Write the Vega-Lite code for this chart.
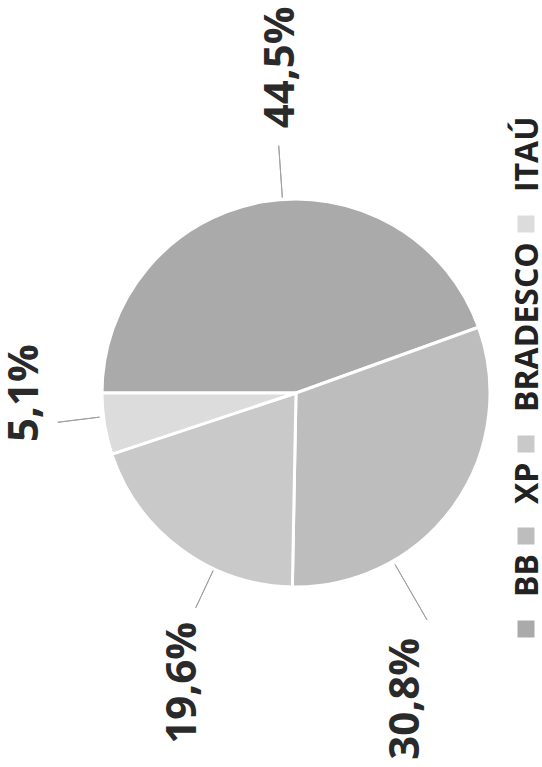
{
  "$schema": "https://vega.github.io/schema/vega-lite/v6.json",
  "autosize": {"type": "none"},
  "padding": {"left": 50, "top": 20, "right": 0, "bottom": 0},
  "width": 492,
  "height": 746,
  "background": "white",
  "config": {
    "view": {"stroke": null},
    "font": "Open Sans",
    "style": {"guide-label": {"angle": 270, "dx": 32, "dy": -14.5}}
  },
  "data": {
    "values": [
      {"banco": "BB", "valor": 44.5, "rotulo": "44,5%", "ordem": 1},
      {"banco": "XP", "valor": 30.8, "rotulo": "30,8%", "ordem": 2},
      {"banco": "BRADESCO", "valor": 19.6, "rotulo": "19,6%", "ordem": 3},
      {"banco": "ITAÚ", "valor": 5.1, "rotulo": "5,1%", "ordem": 4}
    ]
  },
  "encoding": {
    "theta": {"field": "valor", "type": "quantitative", "stack": true, "scale": {"range": [-1.5708, 4.7124]}},
    "order": {"field": "ordem", "type": "quantitative"}
  },
  "layer": [
    {
      "mark": {"type": "arc", "outerRadius": 194, "stroke": "white", "strokeWidth": 3},
      "encoding": {
        "color": {
          "field": "banco",
          "type": "nominal",
          "scale": {"domain": ["ITAÚ", "BRADESCO", "XP", "BB"], "range": ["#dcdcdc", "#c9c9c9", "#bdbdbd", "#aaaaaa"]},
          "legend": {
            "orient": "none",
            "legendX": 460,
            "legendY": 188,
            "direction": "vertical",
            "title": null,
            "padding": 0,
            "symbolType": "square",
            "symbolSize": 289,
            "symbolStrokeWidth": 0,
            "labelFont": "Open Sans",
            "labelFontSize": 32,
            "labelFontWeight": "bold",
            "labelColor": "#222222",
            "labelOffset": 0,
            "labelLimit": 400,
            "labelAlign": "left",
            "labelBaseline": "middle",
            "rowPadding": 9
          }
        }
      }
    },
    {
      "mark": {"type": "arc", "filled": false, "innerRadius": 196, "outerRadius": 248, "padAngle": 3.14, "thetaOffset": 0.103, "stroke": "#a0a0a0", "strokeWidth": 1},
      "encoding": {"strokeOpacity": {"condition": {"test": "datum.banco === 'BB'", "value": 1}, "value": 0}}
    },
    {
      "mark": {"type": "arc", "filled": false, "innerRadius": 198, "outerRadius": 262, "padAngle": 3.14, "thetaOffset": 0.425, "stroke": "#a0a0a0", "strokeWidth": 1},
      "encoding": {"strokeOpacity": {"condition": {"test": "datum.banco === 'XP'", "value": 1}, "value": 0}}
    },
    {
      "mark": {"type": "arc", "filled": false, "innerRadius": 196, "outerRadius": 237, "padAngle": 3.14, "thetaOffset": -0.198, "stroke": "#a0a0a0", "strokeWidth": 1},
      "encoding": {"strokeOpacity": {"condition": {"test": "datum.banco === 'BRADESCO'", "value": 1}, "value": 0}}
    },
    {
      "mark": {"type": "arc", "filled": false, "innerRadius": 198, "outerRadius": 240, "padAngle": 3.14, "thetaOffset": 0.038, "stroke": "#a0a0a0", "strokeWidth": 1},
      "encoding": {"strokeOpacity": {"condition": {"test": "datum.banco === 'ITAÚ'", "value": 1}, "value": 0}}
    },
    {
      "mark": {"type": "text", "radius": 326, "thetaOffset": 0.1269, "angle": 270, "align": "center", "baseline": "middle", "font": "Open Sans", "fontSize": 42, "fontWeight": "bold", "color": "#2a2a2a"},
      "encoding": {"text": {"condition": {"test": "datum.banco === 'BB'", "field": "rotulo"}, "value": ""}}
    },
    {
      "mark": {"type": "text", "radius": 325, "thetaOffset": 0.6037, "angle": 270, "align": "center", "baseline": "middle", "font": "Open Sans", "fontSize": 42, "fontWeight": "bold", "color": "#2a2a2a"},
      "encoding": {"text": {"condition": {"test": "datum.banco === 'XP'", "field": "rotulo"}, "value": ""}}
    },
    {
      "mark": {"type": "text", "radius": 311, "thetaOffset": -0.2632, "angle": 270, "align": "center", "baseline": "middle", "font": "Open Sans", "fontSize": 42, "fontWeight": "bold", "color": "#2a2a2a"},
      "encoding": {"text": {"condition": {"test": "datum.banco === 'BRADESCO'", "field": "rotulo"}, "value": ""}}
    },
    {
      "mark": {"type": "text", "radius": 271, "thetaOffset": 0.1602, "angle": 270, "align": "center", "baseline": "middle", "font": "Open Sans", "fontSize": 42, "fontWeight": "bold", "color": "#2a2a2a"},
      "encoding": {"text": {"condition": {"test": "datum.banco === 'ITAÚ'", "field": "rotulo"}, "value": ""}}
    }
  ]
}
